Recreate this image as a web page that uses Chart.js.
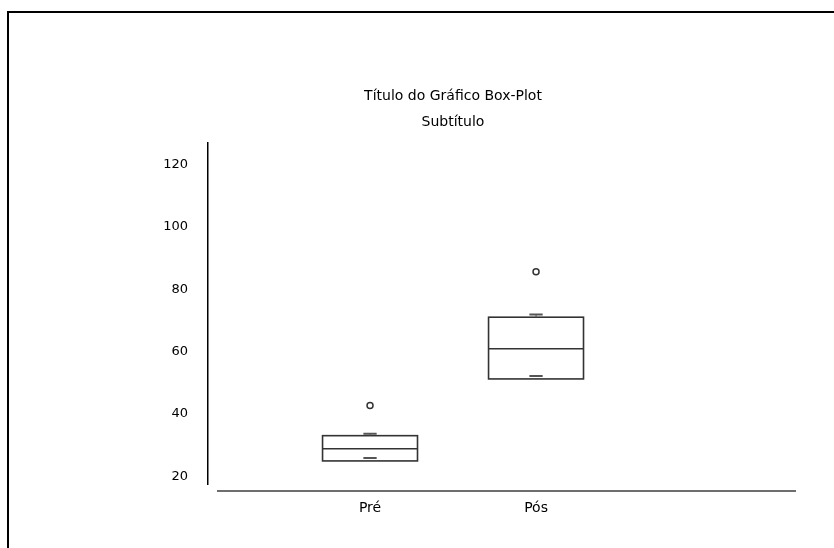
<!DOCTYPE html>
<html>
<head>
<meta charset="utf-8">
<script src="https://cdn.jsdelivr.net/npm/chart.js@4"></script>
<style>
  html, body { margin: 0; padding: 0; background: #fff; }
  #wrap { position: relative; width: 834px; height: 548px; overflow: hidden; }
  #frame {
    position: absolute; left: 7px; top: 11px; width: 900px; height: 600px;
    border-left: 2px solid #000; border-top: 2px solid #000; box-sizing: border-box;
  }
  canvas { position: absolute; left: 0; top: 0; }
</style>
</head>
<body>
<div id="wrap">
  <div id="frame"></div>
  <canvas id="boxChart" width="834" height="548"></canvas>
</div>
<script>
// Dados do box-plot
const categorias = ['Pré', 'Pós'];
const quartil1 = [24.9, 51.2];
const mediana = [28.8, 60.9];
const quartil3 = [33.0, 71.0];
const bigodeInferior = [25.8, 52.1];
const bigodeSuperior = [33.6, 71.9];
const outliers = [42.7, 85.6];
const yTicks = [20, 40, 60, 80, 100, 120];

const FONTE = 'DejaVu Sans';
const LARGURA_CAIXA = 0.286;   // meia largura, em unidades do eixo x
const LARGURA_TRACO = 0.04;

// desenha caixas, medianas e bigodes usando as escalas do gráfico
const boxPlotPlugin = {
    id: 'boxPlot',
    afterDatasetsDraw(chart) {
        const { ctx, scales: { x, y } } = chart;
        ctx.save();
        categorias.forEach((cat, i) => {
            const pos = i + 1;
            const xl = x.getPixelForValue(pos - LARGURA_CAIXA);
            const xr = x.getPixelForValue(pos + LARGURA_CAIXA);
            const xc = x.getPixelForValue(pos);
            const yq1 = y.getPixelForValue(quartil1[i]);
            const yq3 = y.getPixelForValue(quartil3[i]);
            const ym = y.getPixelForValue(mediana[i]);

            ctx.strokeStyle = '#333';
            ctx.lineWidth = 1.6;
            ctx.strokeRect(xl, yq3, xr - xl, yq1 - yq3);

            ctx.beginPath();
            ctx.moveTo(xl, ym);
            ctx.lineTo(xr, ym);
            ctx.stroke();

            // traços dos bigodes
            const tl = x.getPixelForValue(pos - LARGURA_TRACO);
            const tr = x.getPixelForValue(pos + LARGURA_TRACO);
            const yHi = y.getPixelForValue(bigodeSuperior[i]);
            const yLo = y.getPixelForValue(bigodeInferior[i]);
            ctx.strokeStyle = '#555';
            ctx.lineWidth = 2;
            ctx.beginPath();
            ctx.moveTo(tl, yHi);
            ctx.lineTo(tr, yHi);
            ctx.moveTo(tl, yLo);
            ctx.lineTo(tr, yLo);
            ctx.stroke();

            ctx.lineWidth = 1;
            ctx.beginPath();
            ctx.moveTo(xc, yHi);
            ctx.lineTo(xc, yq3);
            ctx.stroke();
        });

        // eixo horizontal deslocado
        const area = chart.chartArea;
        ctx.strokeStyle = '#6e6e6e';
        ctx.lineWidth = 2;
        ctx.beginPath();
        ctx.moveTo(area.left + 9, area.bottom + 7);
        ctx.lineTo(area.right, area.bottom + 7);
        ctx.stroke();
        ctx.restore();
    }
};

new Chart(document.getElementById('boxChart'), {
    type: 'scatter',
    data: {
        datasets: [{
            data: outliers.map((v, i) => ({ x: i + 1, y: v })),
            pointStyle: 'circle',
            pointRadius: 3,
            pointBorderWidth: 1.5,
            pointBorderColor: '#333',
            pointBackgroundColor: '#fff'
        }]
    },
    options: {
        responsive: false,
        animation: false,
        layout: { padding: { left: 110, right: 38, top: 0, bottom: 0 } },
        plugins: {
            legend: { display: false },
            tooltip: { enabled: false },
            title: {
                display: true,
                text: 'Título do Gráfico Box-Plot',
                color: '#000',
                font: { family: FONTE, size: 14, weight: 'normal', lineHeight: 1.2 },
                padding: { top: 88, bottom: 6 }
            },
            subtitle: {
                display: true,
                text: 'Subtítulo',
                color: '#000',
                font: { family: FONTE, size: 14, weight: 'normal', lineHeight: 1.2 },
                padding: { top: 3, bottom: 12 }
            }
        },
        scales: {
            x: {
                type: 'linear',
                min: 0.024,
                max: 3.566,
                grid: { display: false, drawTicks: false },
                border: { display: false },
                afterBuildTicks: s => { s.ticks = [{ value: 1 }, { value: 2 }]; },
                afterFit: s => { s.height = 64; },
                ticks: {
                    color: '#000',
                    padding: 16,
                    font: { family: FONTE, size: 14 },
                    callback: v => categorias[v - 1]
                }
            },
            y: {
                min: 17.5,
                max: 127,
                grid: { display: false, drawTicks: false },
                border: { display: true, color: '#000', width: 1.5 },
                afterBuildTicks: s => { s.ticks = yTicks.map(v => ({ value: v })); },
                afterFit: s => { s.width = 98; },
                ticks: {
                    color: '#000',
                    padding: 20,
                    font: { family: FONTE, size: 13 }
                }
            }
        }
    },
    plugins: [boxPlotPlugin]
});
</script>
</body>
</html>
